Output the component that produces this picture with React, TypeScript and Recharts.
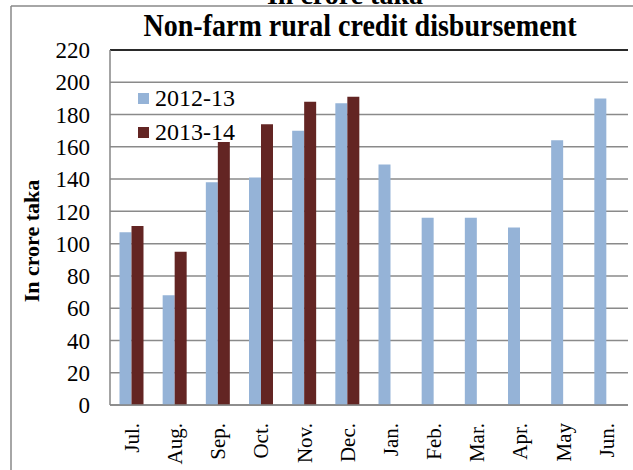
import { BarChart, Bar, XAxis, YAxis, CartesianGrid, ReferenceLine } from 'recharts';

const months = ['Jul.', 'Aug.', 'Sep.', 'Oct.', 'Nov.', 'Dec.', 'Jan.', 'Feb.', 'Mar.', 'Apr.', 'May', 'Jun.'];
const fy2012_13 = [107, 68, 138, 141, 170, 187, 149, 116, 116, 110, 164, 190];
const fy2013_14 = [111, 95, 163, 174, 188, 191, null, null, null, null, null, null];
const yTicks = [0, 20, 40, 60, 80, 100, 120, 140, 160, 180, 200, 220];

const series = [
  { key: 'fy1213', name: '2012-13', color: '#95B3D7' },
  { key: 'fy1314', name: '2013-14', color: '#632523' },
];

const data = months.map((m, i) => ({ month: m, fy1213: fy2012_13[i], fy1314: fy2013_14[i] }));

const serif = '"Liberation Serif", "Times New Roman", serif';

const MonthTick = (props: any) => {
  const { x, y, payload } = props;
  return (
    <g transform={`translate(${x},${y})`}>
      <text transform="rotate(-90)" textAnchor="end" dy="0.35em" fill="#000" fontSize={21} fontFamily={serif}>
        {payload.value}
      </text>
    </g>
  );
};

export default function App() {
  return (
    <div style={{ position: 'absolute', left: 0, top: 0, width: 633, height: 470, background: '#fff', overflow: 'hidden' }}>
      <BarChart
        width={633}
        height={470}
        data={data}
        margin={{ top: 50, right: 5, bottom: 0, left: 0 }}
        barCategoryGap="22%"
        barGap={0}
      >
        <CartesianGrid yAxisId="left" vertical={false} stroke="#8a8a8a" strokeWidth={1.5} />
        <XAxis
          dataKey="month"
          height={65}
          interval={0}
          tickSize={0}
          tickMargin={18}
          tick={<MonthTick />}
          axisLine={{ stroke: '#868686', strokeWidth: 1.5 }}
        />
        <YAxis
          yAxisId="left"
          width={110}
          domain={[0, 220]}
          ticks={yTicks}
          interval={0}
          tickSize={0}
          tickMargin={20}
          tickLine={false}
          axisLine={{ stroke: '#868686', strokeWidth: 1.5 }}
          tick={{ fill: '#000', fontSize: 23, fontFamily: serif }}
        />
        <YAxis
          yAxisId="right"
          orientation="right"
          width={0}
          domain={[0, 220]}
          tick={false}
          tickLine={false}
          axisLine={{ stroke: '#000', strokeWidth: 1.5 }}
        />
        <ReferenceLine yAxisId="left" y={220} stroke="#000" strokeWidth={1.5} />
        {series.map((s) => (
          <Bar key={s.key} yAxisId="left" dataKey={s.key} name={s.name} fill={s.color} isAnimationActive={false} />
        ))}
      </BarChart>
      <div
        style={{
          position: 'absolute',
          left: 138,
          top: 81,
          fontFamily: serif,
          fontSize: 24,
          color: '#000',
        }}
      >
        {series.map((s) => (
          <div key={s.key} style={{ display: 'flex', alignItems: 'center', height: 34 }}>
            <span style={{ width: 11, height: 11, background: s.color, marginRight: 6, display: 'inline-block' }} />
            {s.name}
          </div>
        ))}
      </div>
      <svg width={633} height={470} style={{ position: 'absolute', left: 0, top: 0, pointerEvents: 'none' }}>
        <line x1={11} y1={6} x2={633} y2={6} stroke="#888" strokeWidth={1.5} />
        <line x1={11} y1={6} x2={11} y2={470} stroke="#888" strokeWidth={1.5} />
        <text x={345} y={4} textAnchor="middle" fontFamily={serif} fontWeight="bold" fontSize={28} fill="#000">
          In crore taka
        </text>
        <text
          x={360}
          y={36}
          textAnchor="middle"
          fontFamily={serif}
          fontWeight="bold"
          fontSize={31}
          textLength={433}
          lengthAdjust="spacingAndGlyphs"
          fill="#000"
        >
          Non-farm rural credit disbursement
        </text>
        <text
          transform="translate(31,241) rotate(-90)"
          textAnchor="middle"
          dy="0.35em"
          fontFamily={serif}
          fontWeight="bold"
          fontSize={22}
          fill="#000"
        >
          In crore taka
        </text>
      </svg>
    </div>
  );
}
